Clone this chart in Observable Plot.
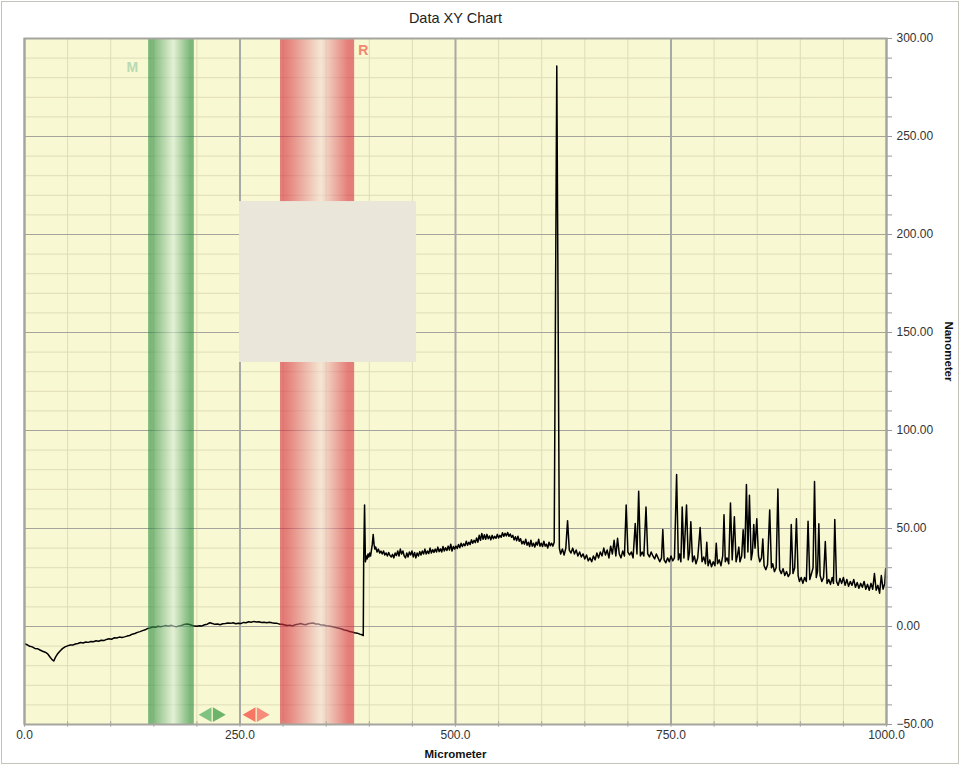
<!DOCTYPE html>
<html><head><meta charset="utf-8">
<script src="https://cdn.jsdelivr.net/npm/d3@7"></script>
<script src="https://cdn.jsdelivr.net/npm/@observablehq/plot@0.6"></script>
<style>
body{margin:0;background:#fff;font-family:"Liberation Sans",Arial,sans-serif;}
#wrap{position:relative;width:961px;height:766px;}
#wrap svg{position:absolute;left:0;top:0;}
#border{position:absolute;left:1px;top:1px;width:956px;height:761px;border:1px solid #c4c4bc;pointer-events:none;}
</style></head><body><div id="wrap"><div id="border"></div></div>
<script>
// ---- texts ----
const chartTitle = "Data XY Chart";
const xLabel = "Micrometer";
const yLabel = "Nanometer";

// ---- ticks ----
const xTicks = [0, 250, 500, 750, 1000];
const xMinorTicks = [0,50,100,150,200,250,300,350,400,450,500,550,600,650,700,750,800,850,900,950,1000];
const yTicks = [-50, 0, 50, 100, 150, 200, 250, 300];
const yMinorTicks = [-50,-40,-30,-20,-10,0,10,20,30,40,50,60,70,80,90,100,110,120,130,140,150,160,170,180,190,200,210,220,230,240,250,260,270,280,290,300];

// ---- cursor bands (micrometer ranges) ----
const bandM = [[144, 197]];
const bandR = [[297, 383]];
const bandLabels = [{label: "M", x: 125, y: 285}, {label: "R", x: 393, y: 294}];
const arrowsM = [{x: 212, y: -45, dir: -90}, {x: 223.5, y: -45, dir: 90}];
const arrowsR = [{x: 263, y: -45, dir: -90}, {x: 274.5, y: -45, dir: 90}];
const overlayBox = [{x1: 249.4, x2: 454.8, y1: 134.7, y2: 216.8}];

// ---- profile data [micrometer, nanometer] ----
const segmentLow = [
[0,-8.8],[3,-9.3],[6,-10.1],[9,-10.4],[12,-11.2],[15,-11.3],[18,-12.0],[21,-12.6],[24,-13.1],[27,-14.0],[30,-15.8],[32,-16.9],[34,-17.6],[36,-15.6],[38,-14.2],[41,-12.6],[44,-11.3],[47,-10.4],[50,-9.9],[53,-9.4],[56,-9.5],[59,-8.9],[62,-8.7],[65,-8.2],[68,-8.4],[71,-7.9],[74,-8.1],[77,-7.7],[80,-7.8],[83,-7.3],[86,-7.5],[89,-7.0],[92,-7.2],[95,-6.6],[98,-6.3],[101,-6.5],[104,-5.8],[107,-5.9],[110,-5.4],[113,-5.6],[116,-5.3],[119,-4.9],[122,-4.6],[125,-3.9],[128,-3.6],[131,-3.0],[134,-2.6],[137,-2.1],[140,-1.7],[143,-1.0],[146,-0.7],[149,-0.2],[152,-0.4],[155,0.1],[158,-0.1],[161,0.2],[164,0.5],[167,0.1],[170,0.6],[173,0.2],[176,-0.2],[179,0.3],[182,0.5],[185,1.0],[188,1.3],[191,1.1],[194,0.6],[197,0.2],[200,0.1],[203,0.4],[206,0.3],[209,0.9],[212,1.2],[215,1.9],[218,1.5],[221,1.1],[224,1.3],[227,0.9],[230,1.4],[233,1.5],[236,1.8],[239,1.6],[242,1.9],[245,1.4],[248,1.7],[251,1.5],[254,2.1],[257,1.9],[260,2.4],[263,2.2],[266,2.6],[269,2.3],[272,2.4],[275,2.0],[278,2.2],[281,1.9],[284,2.2],[287,1.9],[290,1.7],[293,1.6],[296,1.2],[299,1.1],[302,0.8],[305,0.5],[308,0.7],[311,0.3],[314,0.9],[317,1.1],[320,1.5],[323,1.2],[326,0.9],[329,1.4],[332,1.6],[335,1.8],[338,1.3],[341,1.3],[344,0.8],[347,0.8],[350,0.4],[353,0.3],[356,0.0],[359,-0.3],[362,-0.6],[365,-0.9],[368,-1.3],[371,-1.8],[374,-2.0],[377,-2.6],[380,-2.8],[383,-3.2],[386,-3.4],[389,-3.9],[391,-4.1],[393,-4.6]
];
const segmentMid = [
[393.5,35],[394.5,62],[395.5,33],[396.5,36],[397.5,34.5],[398.5,37],[399.5,35.5],[400.5,37.5],[401.5,36],[402.5,39],[403.5,42],[404.5,47],[405.5,42],[406.5,39.5],[407.5,40.5],[409,38],[410.5,39.5],[412,37.5],[413.5,38.5],[415,37],[416.5,38.5],[418,36.5],[419.5,37.5],[421,36],[422.5,37.8],[424,36.2],[425.5,35.5],[427,36.8],[428.5,35],[430,37.5],[431.5,36.2],[433,38.5],[434.5,36],[436,39.5],[437.5,37],[439,38.5],[440.5,36],[442,35],[443.5,37.5],[445,35.5],[446.5,38],[448,36.5],[449.5,38.5],[451,35.5],[452.5,37.8],[454,35],[455.5,37.5],[457,36],[458.5,38.2],[460,36.5],[461.5,38.5],[463,37],[464.5,39.5],[466,37],[467.5,38.5],[469,37.2],[470.5,40],[472,37.5],[473.5,39.2],[475,37.8],[476.5,39.5],[478,38],[479.5,40.5],[481,38.2],[482.5,39.6],[484,38],[485.5,40.8],[487,38.5],[488.5,40.2],[490,38.8],[491.5,41],[493,39],[494.5,42],[496,38.5],[497.5,40.8],[499,39.5],[500.5,41],[502,39.8],[503.5,41.8],[505,40.2],[506.5,42.5],[508,40.8],[509.5,42.2],[511,41.2],[512.5,43.5],[514,41.5],[515.5,43],[517,41.8],[518.5,44.2],[520,42.5],[521.5,44],[523,42.8],[524.5,45.2],[526,43],[527.5,46.5],[529,44],[530.5,47.5],[532,44.5],[533.5,46.8],[535,44.5],[536.5,47],[538,44.8],[539.5,46.2],[541,44.2],[542.5,46.5],[544,44.8],[545.5,46],[547,45],[548.5,47],[550,45.2],[551.5,46.5],[553,45.5],[554.5,47.8],[556,46],[557.5,47.5],[559,46.2],[560.5,48],[562,46],[563.5,47.2],[565,45.5],[566.5,46.5],[568,44.2],[569.5,45.8],[571,43.8],[572.5,46],[574,43.5],[575.5,44.8],[577,42.2],[578.5,43.5],[580,42],[581.5,44.5],[583,41.5],[584.5,43],[586,40.8],[587.5,44],[589,41],[590.5,42.5],[592,40.5],[593.5,43],[595,41.5],[596.5,44.5],[598,41],[599.5,42.5],[601,40.8],[602.5,43.5],[604,41],[605.5,42],[607,40],[608.5,43],[610,41.2],[611.5,42.5],[613,41],[614.5,43],[617.5,286]
];
const segmentHigh = [
[620.5,40],[622,37],[624,39.5],[626,36.5],[628,40],[630,54],[632,39],[634,37.5],[636,40],[638,37],[640,39],[642,36],[644,38],[646,35.5],[648,37],[650,34.5],[652,36.5],[654,33.5],[656,35],[658,33],[660,36],[662,34],[664,37.5],[666,35],[668,38],[670,36],[672,40],[674,36.5],[676,39],[678,35],[680,41],[682,37],[684,44],[686,36],[688,45],[690,37],[692,35],[694,38.5],[696,36],[698,62],[700,38],[702,36.5],[704,38],[706,35],[708.5,52.5],[710.5,37],[712.5,69],[714.5,36],[716.5,38],[718.5,36],[721,61],[723,37],[725,35.5],[727,38],[729,36],[731,34.5],[733,37],[735,35],[737,33],[739,35],[740.5,49.5],[742,34],[744,32.5],[746,35],[748,33],[750,36],[752,33.5],[754,35],[756.5,77.5],[758.5,34],[760,37],[761.5,33],[763,61],[765,35],[768,62],[770,34],[771.5,38],[773,53.5],[775,33],[777,36],[779,32],[781,35],[783.8,50.5],[786,33],[788,35.5],[790,32],[791.5,43],[793,31],[795,34],[797,30.5],[799,33],[801,31],[802.5,42.5],[804,32],[806,34],[808,31],[810,36],[811.5,57],[813,33],[815,35],[817,32],[819,63],[821,34],[823.5,56],[825.5,33],[827,36],[828.7,40.5],[830,33],[832,36],[833.7,49.3],[835.5,35],[837.5,72.4],[839.2,38],[841,67],[843,34],[844.5,38],[846,52],[847.5,40],[849.5,55],[851.5,36],[853,33],[855,35],[856.5,44.7],[858,31],[860,29],[862,31.5],[864.5,59.5],[866.5,30],[868,32],[870,28],[872,30],[874,70.2],[876,29],[878,27],[880,29.5],[882,26],[884,28],[886,25.5],[888,27],[889.5,52],[891.5,27],[893.5,30],[895.5,55],[897.5,26],[899,23],[901,25],[903,22],[905,25],[907,23],[909,53.7],[911,24],[913,27],[914.8,30],[916.5,74],[918.5,25],[920,28],[921.5,52.4],[923,26],[925,23],[927,25],[929,43.4],[931,22],[933,24],[935,21.5],[937,25],[938.5,22],[940,54.6],[942,23],[944,21],[946,24.5],[948,22],[950,25],[952,21],[954,24],[956,20.5],[958,23],[960,21],[962,24],[964,20],[966,22.5],[968,19.5],[970,22],[972,20],[974,23],[976,19],[978,21.5],[980,18.5],[982,22],[984,19],[986,27],[988,18.5],[990,21],[992,17],[994,26],[996,19],[998,22],[999,29.5],[1000,25]
];
const profile = segmentLow.concat(segmentMid, segmentHigh);

// gradient definitions for the cursor bands
function gradientDefs() {
  const defs = d3.create("svg:defs");
  const mk = (id, edge, mid) => {
    const g = defs.append("linearGradient").attr("id", id).attr("x1", "0").attr("x2", "1").attr("y1", "0").attr("y2", "0");
    g.append("stop").attr("offset", "0").attr("stop-color", edge);
    g.append("stop").attr("offset", "0.08").attr("stop-color", edge);
    g.append("stop").attr("offset", "0.55").attr("stop-color", mid);
    g.append("stop").attr("offset", "0.92").attr("stop-color", edge);
    g.append("stop").attr("offset", "1").attr("stop-color", edge);
  };
  mk("gradM", "rgb(40,140,60)", "rgb(215,235,215)");
  mk("gradR", "rgb(215,45,60)", "rgb(242,218,212)");
  return defs.node();
}

const chart = Plot.plot({
  width: 961,
  height: 766,
  marginLeft: 24,
  marginRight: 75,
  marginTop: 38,
  marginBottom: 42,
  style: {fontFamily: "'Liberation Sans', Arial, sans-serif", background: "transparent"},
  x: {domain: [0, 1000], axis: null},
  y: {domain: [-50, 300], axis: null},
  marks: [
    gradientDefs,
    Plot.frame({fill: "#f8f8d2", stroke: "none"}),
    Plot.gridX(xMinorTicks, {stroke: "#deddb8", strokeOpacity: 1, strokeWidth: 1}),
    Plot.gridY(yMinorTicks, {stroke: "#deddb8", strokeOpacity: 1, strokeWidth: 1}),
    Plot.gridY(yTicks, {stroke: "#a4a49c", strokeOpacity: 1, strokeWidth: 1}),
    Plot.gridX(xTicks, {stroke: "#a8a8a6", strokeOpacity: 1, strokeWidth: 2}),
    Plot.line(profile, {x: d => d[0], y: d => d[1], stroke: "#000", strokeWidth: 1.5}),
    Plot.rect(bandM, {x1: d => d[0], x2: d => d[1], y1: -50, y2: 300, fill: "url(#gradM)", fillOpacity: 0.6}),
    Plot.rect(bandR, {x1: d => d[0], x2: d => d[1], y1: -50, y2: 300, fill: "url(#gradR)", fillOpacity: 0.6}),
    Plot.rect(overlayBox, {x1: "x1", x2: "x2", y1: "y1", y2: "y2", fill: "#eae6d9"}),
    Plot.frame({stroke: "#a5a59f", strokeWidth: 2}),
    Plot.text(bandLabels.slice(0, 1), {x: "x", y: "y", text: "label", fill: "#b9dab2", fontWeight: "bold", fontSize: 14}),
    Plot.text(bandLabels.slice(1), {x: "x", y: "y", text: "label", fill: "#f2886f", fontWeight: "bold", fontSize: 14}),
    Plot.dot(arrowsM, {x: "x", y: "y", symbol: "triangle", rotate: "dir", r: 5.5, fill: (d, i) => i === 0 ? "#80c280" : "#6cb46c", stroke: "none"}),
    Plot.dot(arrowsR, {x: "x", y: "y", symbol: "triangle", rotate: "dir", r: 5.5, fill: (d, i) => i === 0 ? "#f67564" : "#f88c7c", stroke: "none"}),
    Plot.ruleX(xMinorTicks, {x: d => d, y1: -51.4, y2: -48.6, stroke: "#a5a59f", strokeWidth: 1}),
    Plot.axisX(xTicks, {anchor: "bottom", tickSize: 0, tickPadding: 6, tickFormat: d3.format(".1f"), fontSize: 12, fill: "#333", label: null}),
    Plot.axisY(yMinorTicks, {anchor: "right", tickSize: 5, stroke: "#999", tickFormat: () => "", label: null}),
    Plot.axisY(yTicks, {anchor: "right", tickSize: 5, tickPadding: 5, stroke: "#999", tickFormat: d3.format(".2f"), fontSize: 12, fill: "#333", label: null}),
    Plot.text([chartTitle], {frameAnchor: "top", lineAnchor: "middle", dy: -20, fontSize: 14.5, fill: "#222"}),
    Plot.text([xLabel], {frameAnchor: "bottom", lineAnchor: "middle", dy: 30, fontSize: 11.5, fontWeight: "bold", fill: "#111"}),
    Plot.text([yLabel], {frameAnchor: "right", dx: 62, rotate: 90, fontSize: 11.5, fontWeight: "bold", fill: "#111"})
  ]
});
document.getElementById("wrap").prepend(chart);
</script>
</body></html>
